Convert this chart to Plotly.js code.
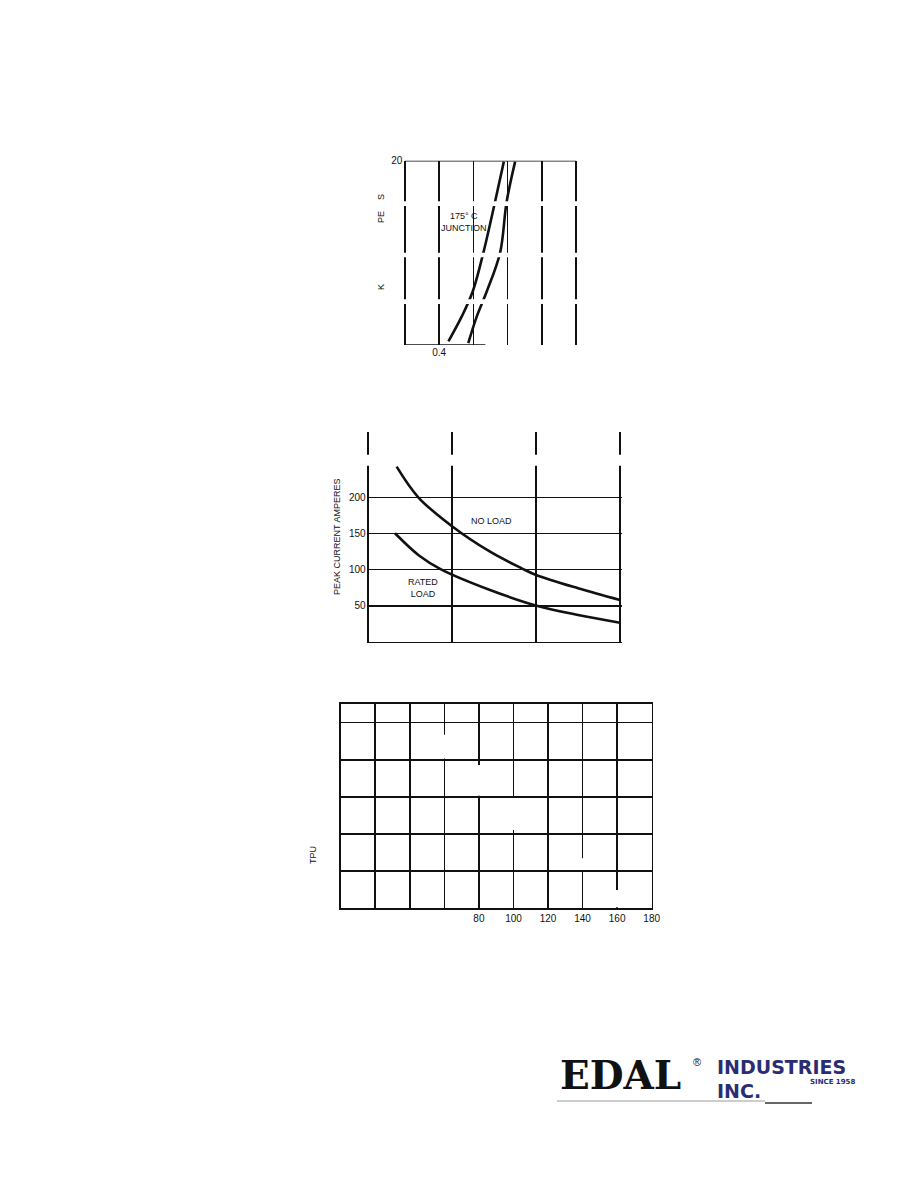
<!DOCTYPE html>
<html>
<head>
<meta charset="utf-8">
<script src="https://cdn.plot.ly/plotly-3.0.1.min.js"></script>
<style>html,body{margin:0;padding:0;background:#fff;}#chart{width:920px;height:1190px;}</style>
</head>
<body>
<div id="chart"></div>
<script>
// ---------- Data ----------
// Chart 1 (175°C junction)
const c1Ticks = [0.3, 0.4, 0.5, 0.6, 0.7, 0.8];
const c1TickText = ['', '0.4', '', '', '', ''];
const junctionLeftX = [0.427, 0.466, 0.498, 0.529, 0.563, 0.589];
const junctionLeftY = [0.4, 3.1, 5.8, 10.0, 15.5, 19.9];
const junctionRightX = [0.485, 0.510, 0.539, 0.578, 0.597, 0.622];
const junctionRightY = [0.2, 3.1, 5.8, 10.0, 15.5, 19.9];

// Chart 2 (peak current)
const c2XTicks = [0, 1, 2, 3];
const c2YTicks = [50, 100, 150, 200];
const noLoadX = [0.338, 0.596, 0.994, 1.451, 1.828, 2.0, 2.5, 3.0];
const noLoadY = [242.6, 200.2, 160.4, 124.8, 101.8, 92.5, 74.1, 57.9];
const ratedLoadX = [0.318, 0.6, 0.867, 1.451, 2.007, 2.5, 3.0];
const ratedLoadY = [150.3, 120, 100.4, 71.8, 50, 37.1, 26.5];

// Chart 3 (TPU grid)
const c3XTicks = [0, 20, 40, 60, 80, 100, 120, 140, 160, 180];
const c3XText = ['', '', '', '', '80', '100', '120', '140', '160', '180'];
const c3YTicks = [1, 2, 3, 4, 5];

// ---------- Helpers ----------
const W = 920, H = 1190;
const px = p => p / W;
const py = p => 1 - p / H;
const INK = '#111111';
const NAVY = '#2a2d72';
const FONT = 'Liberation Sans, Arial, sans-serif';

const line = (x, y, xa, ya) => ({
  type: 'scatter', mode: 'lines', x, y, xaxis: xa, yaxis: ya,
  line: {color: INK, width: 2.6, shape: 'spline', smoothing: 1},
  hoverinfo: 'skip', showlegend: false
});

const traces = [
  line(junctionLeftX, junctionLeftY, 'x', 'y'),
  line(junctionRightX, junctionRightY, 'x', 'y'),
  line(noLoadX, noLoadY, 'x2', 'y2'),
  line(ratedLoadX, ratedLoadY, 'x2', 'y2'),
  {type: 'scatter', mode: 'lines', x: [], y: [], xaxis: 'x3', yaxis: 'y3', showlegend: false}
];

const baseAxis = {
  color: INK, gridcolor: INK, gridwidth: 1.6, zeroline: false, ticks: '',
  tickfont: {family: FONT, size: 10, color: INK}, fixedrange: true
};

const gap = (xref, yref, x0, x1, y0, y1) => ({
  type: 'rect', xref, yref, x0, x1, y0, y1, layer: 'above',
  fillcolor: '#ffffff', line: {width: 0}
});

const note = (x, y, text, extra) => Object.assign({
  xref: 'paper', yref: 'paper', x: px(x), y: py(y), text, showarrow: false,
  xanchor: 'center', yanchor: 'middle', font: {family: FONT, size: 9, color: INK}
}, extra || {});

const layout = {
  width: W, height: H,
  margin: {l: 0, r: 0, t: 0, b: 0},
  paper_bgcolor: '#ffffff', plot_bgcolor: 'rgba(0,0,0,0)',
  showlegend: false,
  font: {family: FONT, color: INK},
  // Chart 1
  xaxis: Object.assign({}, baseAxis, {
    domain: [px(403.3), px(577.7)], range: [0.295, 0.805], anchor: 'y',
    tickvals: c1Ticks, ticktext: c1TickText, showgrid: true, showline: false
  }),
  yaxis: Object.assign({}, baseAxis, {
    domain: [py(345), py(160.7)], range: [0, 20], anchor: 'x',
    tickvals: [20], ticktext: ['20'], showgrid: false, showline: false
  }),
  // Chart 2
  xaxis2: Object.assign({}, baseAxis, {
    domain: [px(366.6), px(621.7)], range: [-0.02, 3.02], anchor: 'y2',
    tickvals: c2XTicks, ticktext: ['', '', '', ''], showgrid: true,
    showline: true, linecolor: INK, linewidth: 1.6
  }),
  yaxis2: Object.assign({}, baseAxis, {
    domain: [py(641.8), py(431.7)], range: [0, 291], anchor: 'x2',
    tickvals: c2YTicks, ticktext: c2YTicks.map(String), showgrid: true, showline: false,
    title: {text: 'PEAK CURRENT AMPERES', font: {family: FONT, size: 9, color: INK}, standoff: 6}
  }),
  // Chart 3
  xaxis3: Object.assign({}, baseAxis, {
    domain: [px(340.7), px(651.7)], range: [0, 180], anchor: 'y3',
    tickvals: c3XTicks, ticktext: c3XText, showgrid: true,
    showline: true, mirror: true, linecolor: INK, linewidth: 1.6
  }),
  yaxis3: Object.assign({}, baseAxis, {
    domain: [py(908.3), py(704)], range: [0, 5.5], anchor: 'x3',
    tickvals: c3YTicks, ticktext: c3YTicks.map(() => ''), showgrid: true,
    showline: true, mirror: true, linecolor: INK, linewidth: 1.6
  }),
  shapes: [
    // chart 1 frame pieces
    {type: 'line', xref: 'x', yref: 'y', x0: 0.3, x1: 0.8, y0: 20, y1: 20, line: {color: INK, width: 1.8}},
    {type: 'line', xref: 'x', yref: 'y', x0: 0.3, x1: 0.535, y0: 0, y1: 0, line: {color: INK, width: 1.6}},
    // chart 1 scan gaps
    gap('x', 'y', 0.28, 0.82, 15.08, 15.6),
    gap('x', 'y', 0.28, 0.82, 9.52, 10.0),
    gap('x', 'y', 0.28, 0.82, 4.45, 4.96),
    // chart 2 scan gap
    gap('x2', 'y2', -0.05, 3.05, 244, 259),
    // chart 3 scan gaps
    gap('x3', 'y3', 57, 63, 4.03, 4.67),
    gap('x3', 'y3', 77, 83, 3.03, 3.86),
    gap('x3', 'y3', 97, 103, 2.11, 2.97),
    gap('x3', 'y3', 137, 143, 1.03, 1.35),
    gap('x3', 'y3', 157, 163, 0.03, 0.49),
    // logo underline
    {type: 'line', xref: 'paper', yref: 'paper', x0: px(557), x1: px(765), y0: py(1101), y1: py(1101), line: {color: '#9a9a9a', width: 1}},
    {type: 'line', xref: 'paper', yref: 'paper', x0: px(765), x1: px(812), y0: py(1103), y1: py(1103), line: {color: '#333333', width: 1.6}}
  ],
  annotations: [
    {xref: 'x', yref: 'y', x: 0.4725, y: 13.4, text: '175° C<br>JUNCTION', showarrow: false,
     xanchor: 'center', yanchor: 'middle', font: {family: FONT, size: 9, color: INK}},
    note(381, 197, 'S', {textangle: -90}),
    note(381, 217, 'PE', {textangle: -90}),
    note(381, 287, 'K', {textangle: -90}),
    {xref: 'x2', yref: 'y2', x: 1.474, y: 167, text: 'NO LOAD', showarrow: false,
     xanchor: 'center', yanchor: 'middle', font: {family: FONT, size: 9, color: INK}},
    {xref: 'x2', yref: 'y2', x: 0.652, y: 74, text: 'RATED<br>LOAD', showarrow: false,
     xanchor: 'center', yanchor: 'middle', font: {family: FONT, size: 9, color: INK}},
    note(313, 855, 'TPU', {textangle: -90}),
    // logo
    note(620, 1075, '<b>EDAL</b>', {font: {family: 'DejaVu Serif, serif', size: 39, color: '#111111'}}),
    note(697, 1062, '®', {font: {family: FONT, size: 11, color: '#111111'}}),
    note(716, 1079, '<b>INDUSTRIES</b>', {xanchor: 'left', yanchor: 'bottom', borderpad: 0,
      font: {family: 'DejaVu Sans, sans-serif', size: 19, color: NAVY}}),
    note(716, 1079, '<b>INC.</b>', {xanchor: 'left', yanchor: 'top', borderpad: 0,
      font: {family: 'DejaVu Sans, sans-serif', size: 19, color: NAVY}}),
    note(857, 1082, '<b>SINCE 1958</b>', {xanchor: 'right',
      font: {family: 'DejaVu Sans, sans-serif', size: 7, color: NAVY}})
  ]
};

Plotly.newPlot('chart', traces, layout, {staticPlot: true, displayModeBar: false});
</script>
</body>
</html>
